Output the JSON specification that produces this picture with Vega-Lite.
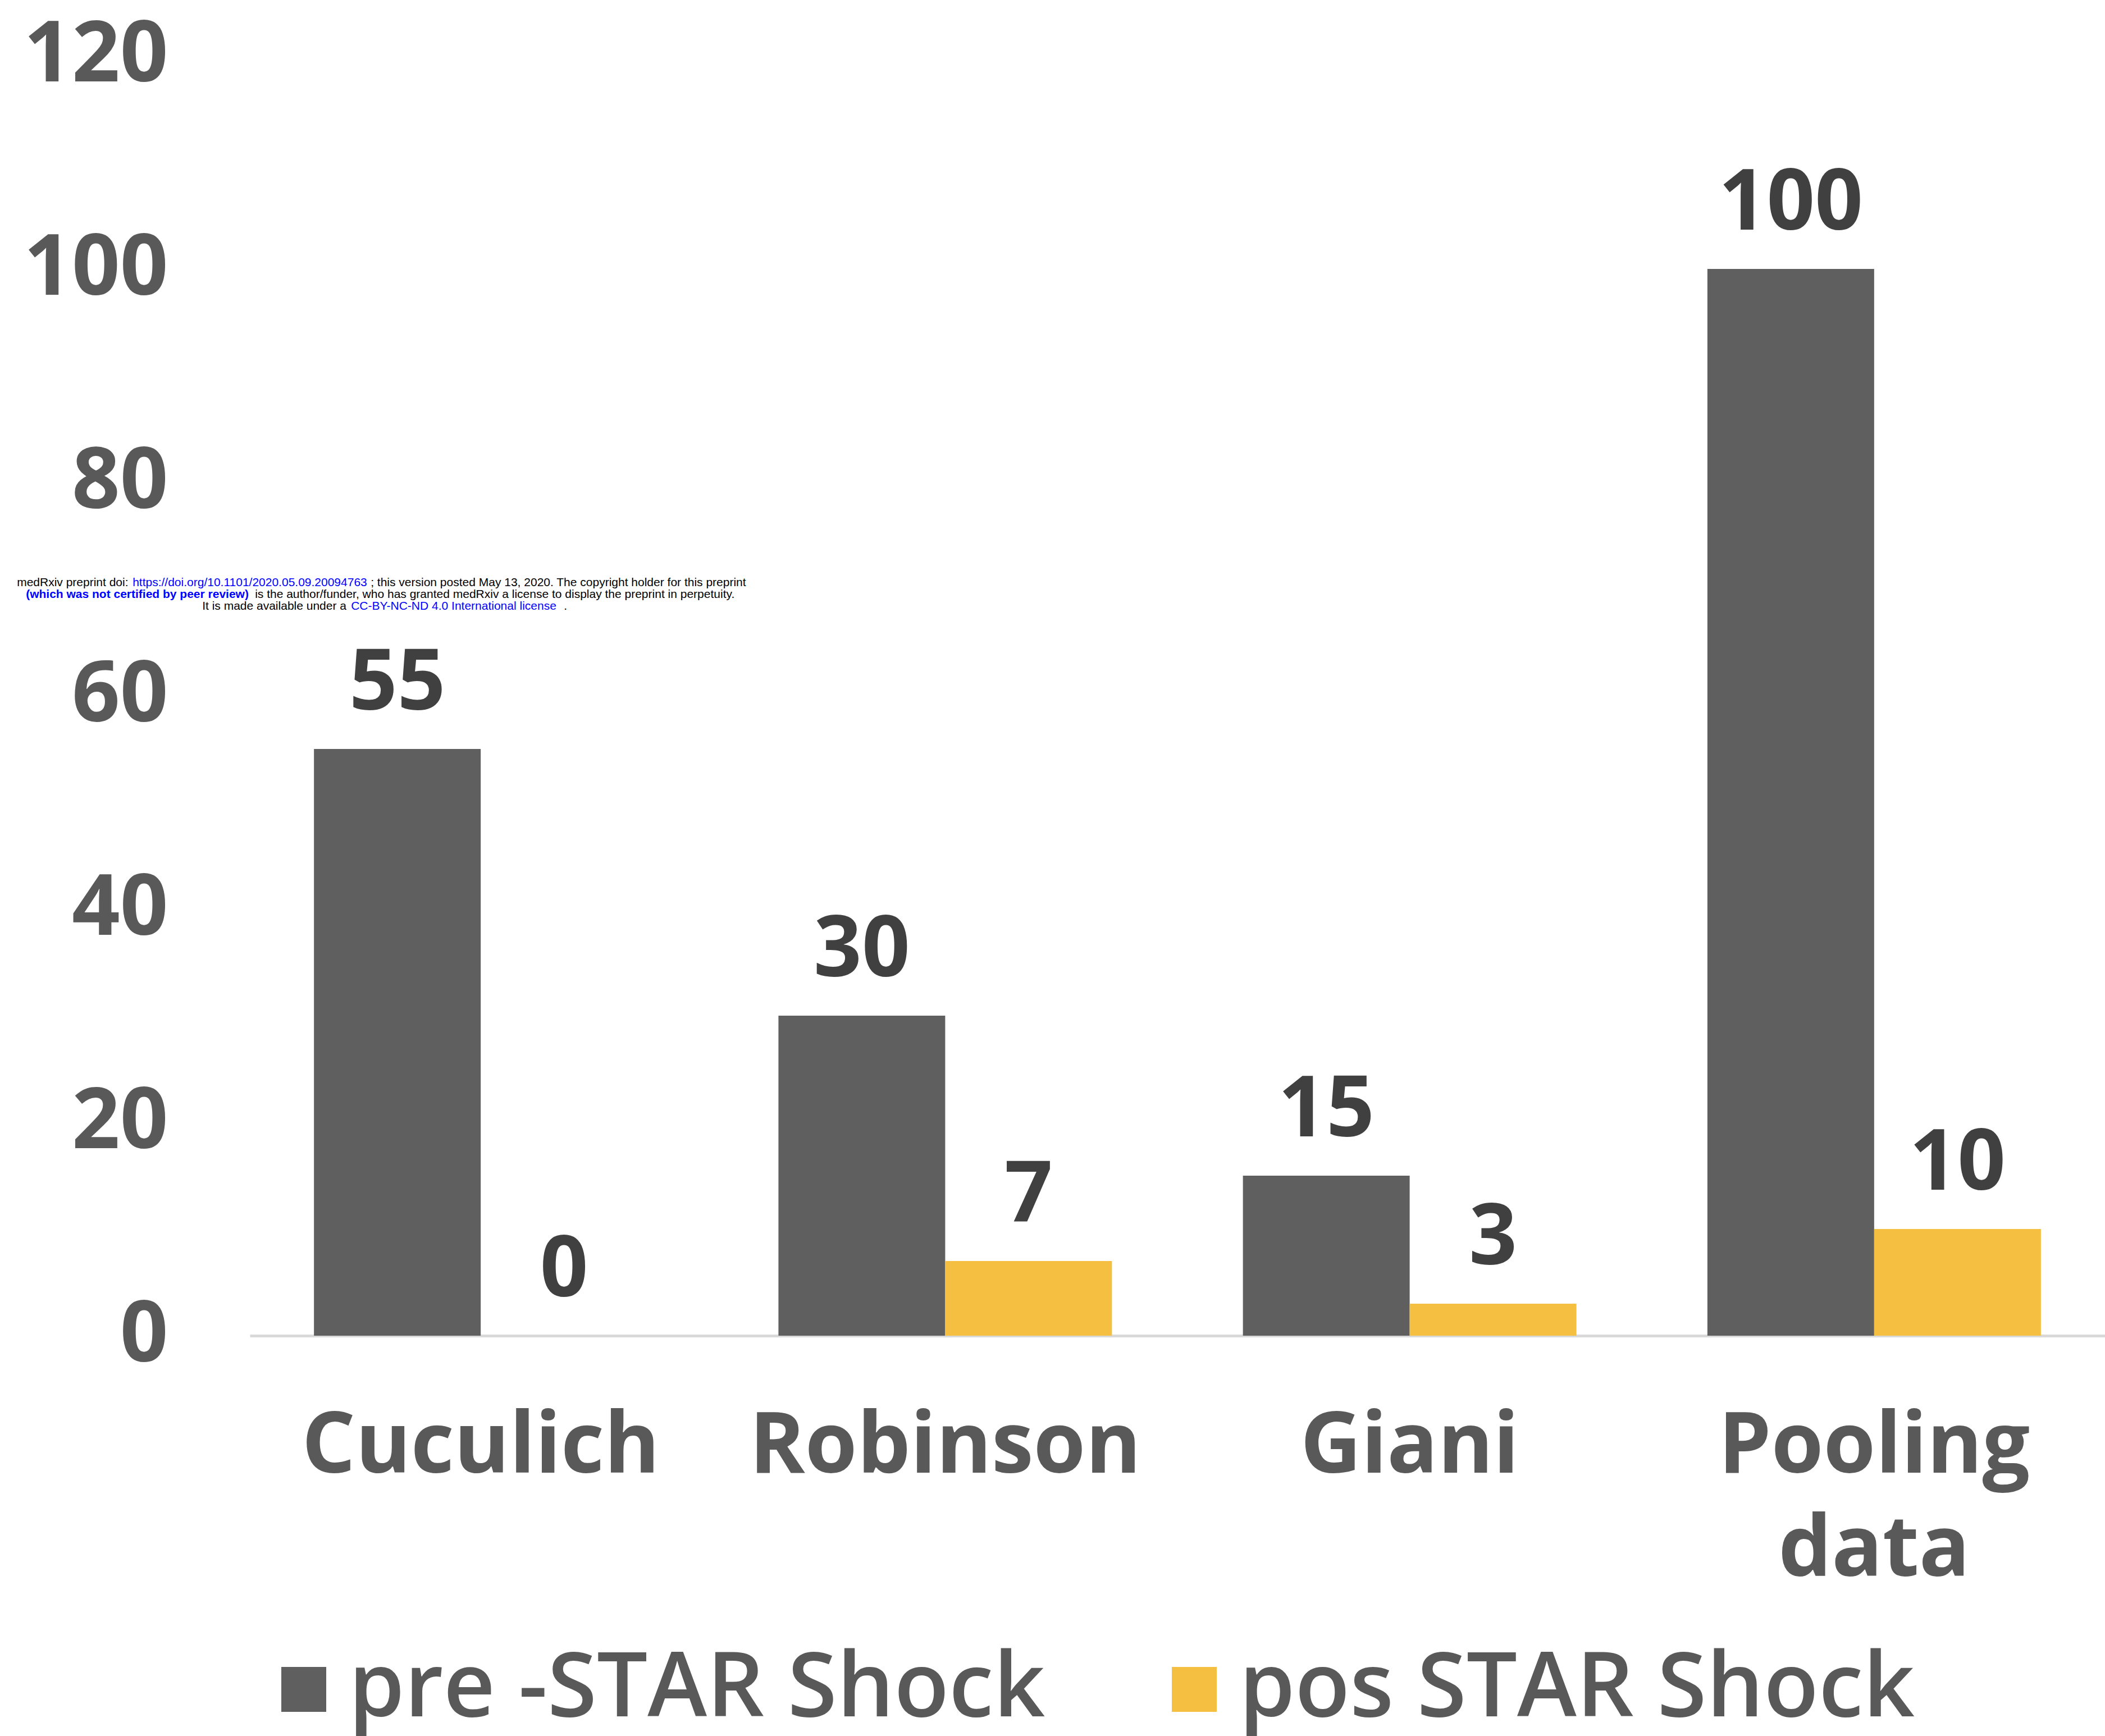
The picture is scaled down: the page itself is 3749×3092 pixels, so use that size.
{
  "$schema": "https://vega.github.io/schema/vega-lite/v6.json",
  "autosize": {"type": "none"},
  "padding": {"left": 445, "top": 99, "right": 0, "bottom": 713},
  "width": 3304,
  "height": 2280,
  "background": "white",
  "datasets": {
    "bars": [
      {"study": "Cuculich", "series": "pre -STAR Shock", "value": 55},
      {"study": "Cuculich", "series": "pos STAR Shock", "value": 0},
      {"study": "Robinson", "series": "pre -STAR Shock", "value": 30},
      {"study": "Robinson", "series": "pos STAR Shock", "value": 7},
      {"study": "Giani", "series": "pre -STAR Shock", "value": 15},
      {"study": "Giani", "series": "pos STAR Shock", "value": 3},
      {"study": "Pooling data", "series": "pre -STAR Shock", "value": 100},
      {"study": "Pooling data", "series": "pos STAR Shock", "value": 10}
    ]
  },
  "config": {
    "view": {"stroke": null},
    "font": "Open Sans"
  },
  "layer": [
    {
      "data": {"name": "bars"},
      "mark": {"type": "bar"},
      "encoding": {
        "x": {
          "field": "study", "type": "nominal", "sort": ["Cuculich", "Robinson", "Giani", "Pooling data"],
          "scale": {"domain": ["Cuculich", "Robinson", "Giani", "Pooling data"], "paddingInner": 0.282, "paddingOuter": 0.138},
          "axis": {
            "title": null, "labelAngle": 0, "ticks": false,
            "domainColor": "#d9d9d9", "domainWidth": 5,
            "labelFont": "Open Sans", "labelFontWeight": "bold", "labelFontSize": 150,
            "labelColor": "#595959", "labelPadding": 124, "labelBaseline": "top",
            "labelLineHeight": 184, "labelLimit": 2000,
            "labelExpr": "datum.value == 'Pooling data' ? ['Pooling', 'data'] : datum.value"
          }
        },
        "xOffset": {"field": "series", "type": "nominal", "sort": ["pre -STAR Shock", "pos STAR Shock"], "scale": {"paddingInner": 0, "paddingOuter": 0}},
        "y": {
          "field": "value", "type": "quantitative",
          "scale": {"domain": [0, 120], "nice": false},
          "axis": {
            "title": null, "values": [0, 20, 40, 60, 80, 100, 120], "grid": false, "domain": false, "ticks": false,
            "labelFont": "Open Sans", "labelFontWeight": "bold", "labelFontSize": 150,
            "labelColor": "#595959", "labelPadding": 146, "labelLimit": 2000
          }
        },
        "color": {
          "field": "series", "type": "nominal", "sort": ["pre -STAR Shock", "pos STAR Shock"],
          "scale": {"domain": ["pre -STAR Shock", "pos STAR Shock"], "range": ["#5f5f5f", "#f5bf41"]},
          "legend": {
            "title": null, "orient": "none", "direction": "horizontal",
            "legendX": 16, "legendY": 2830,
            "symbolType": "square", "symbolSize": 6400, "symbolStrokeWidth": 0,
            "labelFont": "Open Sans", "labelFontWeight": 600, "labelFontSize": 160,
            "labelColor": "#595959", "labelOffset": 0, "columnPadding": 185,
            "labelLimit": 2000
          }
        }
      }
    },
    {
      "data": {"name": "bars"},
      "mark": {"type": "text", "font": "Open Sans", "fontWeight": "bold", "fontSize": 150, "color": "#404040", "baseline": "alphabetic", "dy": -70},
      "encoding": {
        "x": {"field": "study", "type": "nominal", "sort": ["Cuculich", "Robinson", "Giani", "Pooling data"]},
        "xOffset": {"field": "series", "type": "nominal", "sort": ["pre -STAR Shock", "pos STAR Shock"]},
        "y": {"field": "value", "type": "quantitative"},
        "text": {"field": "value", "type": "quantitative"}
      }
    },
    {
      "data": {"values": [{"study": "Cuculich", "pos": 70.58, "seg": "medRxiv preprint doi: "}]},
      "mark": {"type": "text", "font": "Liberation Sans", "fontSize": 21, "color": "#000000", "baseline": "middle", "align": "left", "dx": -826},
      "encoding": {"x": {"field": "study", "type": "nominal", "sort": ["Cuculich", "Robinson", "Giani", "Pooling data"]}, "y": {"field": "pos", "type": "quantitative"}, "text": {"field": "seg"}}
    },
    {
      "data": {"values": [{"study": "Cuculich", "pos": 70.58, "seg": "https://doi.org/10.1101/2020.05.09.20094763"}]},
      "mark": {"type": "text", "font": "Liberation Sans", "fontSize": 21, "color": "#0000ff", "baseline": "middle", "align": "left", "dx": -620},
      "encoding": {"x": {"field": "study", "type": "nominal", "sort": ["Cuculich", "Robinson", "Giani", "Pooling data"]}, "y": {"field": "pos", "type": "quantitative"}, "text": {"field": "seg"}}
    },
    {
      "data": {"values": [{"study": "Cuculich", "pos": 70.58, "seg": "; this version posted May 13, 2020. The copyright holder for this preprint"}]},
      "mark": {"type": "text", "font": "Liberation Sans", "fontSize": 21, "color": "#000000", "baseline": "middle", "align": "left", "dx": -196},
      "encoding": {"x": {"field": "study", "type": "nominal", "sort": ["Cuculich", "Robinson", "Giani", "Pooling data"]}, "y": {"field": "pos", "type": "quantitative"}, "text": {"field": "seg"}}
    },
    {
      "data": {"values": [{"study": "Cuculich", "pos": 69.47, "seg": "(which was not certified by peer review)"}]},
      "mark": {"type": "text", "font": "Liberation Sans", "fontSize": 21, "fontWeight": "bold", "color": "#0000ff", "baseline": "middle", "align": "left", "dx": -810},
      "encoding": {"x": {"field": "study", "type": "nominal", "sort": ["Cuculich", "Robinson", "Giani", "Pooling data"]}, "y": {"field": "pos", "type": "quantitative"}, "text": {"field": "seg"}}
    },
    {
      "data": {"values": [{"study": "Cuculich", "pos": 69.47, "seg": "is the author/funder, who has granted medRxiv a license to display the preprint in perpetuity."}]},
      "mark": {"type": "text", "font": "Liberation Sans", "fontSize": 21, "color": "#000000", "baseline": "middle", "align": "left", "dx": -402},
      "encoding": {"x": {"field": "study", "type": "nominal", "sort": ["Cuculich", "Robinson", "Giani", "Pooling data"]}, "y": {"field": "pos", "type": "quantitative"}, "text": {"field": "seg"}}
    },
    {
      "data": {"values": [{"study": "Cuculich", "pos": 68.37, "seg": "It is made available under a "}]},
      "mark": {"type": "text", "font": "Liberation Sans", "fontSize": 21, "color": "#000000", "baseline": "middle", "align": "left", "dx": -496},
      "encoding": {"x": {"field": "study", "type": "nominal", "sort": ["Cuculich", "Robinson", "Giani", "Pooling data"]}, "y": {"field": "pos", "type": "quantitative"}, "text": {"field": "seg"}}
    },
    {
      "data": {"values": [{"study": "Cuculich", "pos": 68.37, "seg": "CC-BY-NC-ND 4.0 International license"}]},
      "mark": {"type": "text", "font": "Liberation Sans", "fontSize": 21, "color": "#0000ff", "baseline": "middle", "align": "left", "dx": -231},
      "encoding": {"x": {"field": "study", "type": "nominal", "sort": ["Cuculich", "Robinson", "Giani", "Pooling data"]}, "y": {"field": "pos", "type": "quantitative"}, "text": {"field": "seg"}}
    },
    {
      "data": {"values": [{"study": "Cuculich", "pos": 68.37, "seg": "."}]},
      "mark": {"type": "text", "font": "Liberation Sans", "fontSize": 21, "color": "#000000", "baseline": "middle", "align": "left", "dx": 148},
      "encoding": {"x": {"field": "study", "type": "nominal", "sort": ["Cuculich", "Robinson", "Giani", "Pooling data"]}, "y": {"field": "pos", "type": "quantitative"}, "text": {"field": "seg"}}
    }
  ]
}
